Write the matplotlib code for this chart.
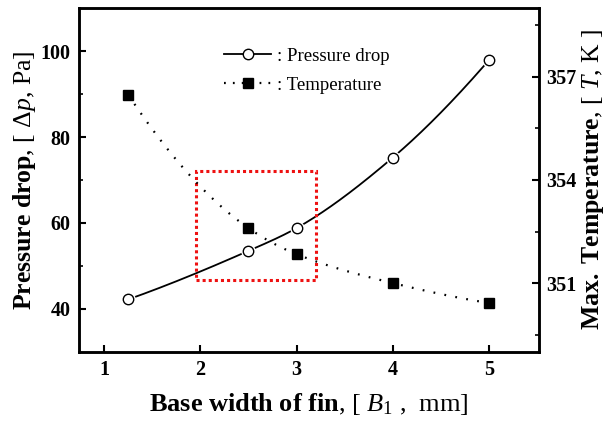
import numpy as np
import matplotlib
matplotlib.use("Agg")
import matplotlib.pyplot as plt
from matplotlib.ticker import FixedLocator
from matplotlib.lines import Line2D
from matplotlib.patches import Rectangle

plt.rcParams['font.family'] = ['Liberation Serif', 'DejaVu Serif']
plt.rcParams['mathtext.fontset'] = 'custom'
plt.rcParams['mathtext.rm'] = 'Liberation Serif'
plt.rcParams['mathtext.it'] = 'Liberation Serif:italic'
plt.rcParams['mathtext.bf'] = 'Liberation Serif:bold'

# data
base_width = [1.25, 2.5, 3.0, 4.0, 5.0]
pressure_drop = [42.2, 53.5, 58.8, 75.2, 97.9]
max_temperature = [356.48, 352.6, 351.84, 351.0, 350.42]
legend_labels = [": Pressure drop", ": Temperature"]
x_ticks = [1, 2, 3, 4, 5]
left_ticks = [40, 60, 80, 100]
left_minor = [50, 70, 90]
right_ticks = [351, 354, 357]
right_minor = [349.5, 352.5, 355.5, 358.5]


def pchip(x, y, xs):
    x = np.asarray(x, float); y = np.asarray(y, float)
    h = np.diff(x); d = np.diff(y) / h
    n = len(x); m = np.zeros(n)
    for k in range(1, n - 1):
        if d[k - 1] * d[k] > 0:
            w1 = 2 * h[k] + h[k - 1]; w2 = h[k] + 2 * h[k - 1]
            m[k] = (w1 + w2) / (w1 / d[k - 1] + w2 / d[k])
    m[0] = ((2 * h[0] + h[1]) * d[0] - h[0] * d[1]) / (h[0] + h[1])
    if np.sign(m[0]) != np.sign(d[0]): m[0] = 0
    m[-1] = ((2 * h[-1] + h[-2]) * d[-1] - h[-1] * d[-2]) / (h[-1] + h[-2])
    if np.sign(m[-1]) != np.sign(d[-1]): m[-1] = 0
    idx = np.clip(np.searchsorted(x, xs) - 1, 0, n - 2)
    t = (xs - x[idx]) / h[idx]
    h00 = 2 * t**3 - 3 * t**2 + 1; h10 = t**3 - 2 * t**2 + t
    h01 = -2 * t**3 + 3 * t**2; h11 = t**3 - t**2
    return h00 * y[idx] + h10 * h[idx] * m[idx] + h01 * y[idx + 1] + h11 * h[idx] * m[idx + 1]


fig = plt.figure(figsize=(6.09, 4.28), dpi=100)
ax = fig.add_axes([0.130, 0.178, 0.755, 0.803])
ax2 = ax.twinx()

xs = np.linspace(base_width[0], base_width[-1], 300)
ax.plot(xs, pchip(base_width, pressure_drop, xs), color='black', lw=1.3, zorder=2)
ax.plot(base_width, pressure_drop, linestyle='none', marker='o', ms=10.5,
        mfc='white', mec='white', mew=0, zorder=2.5)
ax.plot(base_width, pressure_drop, linestyle='none', marker='o', ms=7.5,
        mfc='white', mec='black', mew=1.0, zorder=3)
ax2.plot(xs, pchip(base_width, max_temperature, xs), color='black', lw=1.6,
         linestyle=(0, (0.8, 4.2)), zorder=2)
ax2.plot(base_width, max_temperature, linestyle='none', marker='s', ms=6.8,
         mfc='black', mec='black', zorder=3)

ax.set_xlim(0.74, 5.52)
ax.set_ylim(30, 110)
ax2.set_ylim(349, 359)

ax.xaxis.set_major_locator(FixedLocator(x_ticks))
ax.yaxis.set_major_locator(FixedLocator(left_ticks))
ax.yaxis.set_minor_locator(FixedLocator(left_minor))
ax2.yaxis.set_major_locator(FixedLocator(right_ticks))
ax2.yaxis.set_minor_locator(FixedLocator(right_minor))

for a in (ax, ax2):
    for s in a.spines.values():
        s.set_linewidth(1.8)
ax.tick_params(axis='both', which='major', direction='in', length=5, width=1.5,
               labelsize=14.5, pad=6)
ax.tick_params(axis='y', which='minor', direction='in', length=3, width=1.2)
ax2.tick_params(axis='y', which='major', direction='in', length=5, width=1.5,
                labelsize=14.5, pad=5)
ax2.tick_params(axis='y', which='minor', direction='in', length=3, width=1.2)
for lab in ax.get_xticklabels() + ax.get_yticklabels() + ax2.get_yticklabels():
    lab.set_fontweight('bold')

ax.set_xlabel(r"$\mathbf{Base\ width\ of\ fin}$, [ $\mathit{B_1}$ ,  mm]", fontsize=19, labelpad=8)
ax.set_ylabel(r"$\mathbf{Pressure\ drop}$, [ $\mathit{\Delta p}$, Pa]", fontsize=18.5, labelpad=2)
ax2.set_ylabel(r"$\mathbf{Max.\ Temperature}$, [ $\mathit{T}$, K ]", fontsize=18.5,
               rotation=90, labelpad=3)

rect = Rectangle((1.95, 46.8), 1.25, 25.2, fill=False, edgecolor='#ee1111',
                 lw=2.2, linestyle=(0, (1, 1)), zorder=4)
ax.add_patch(rect)

handles = [Line2D([], [], color='black', lw=1.3, marker='o', ms=7.5, mfc='white', mec='black'),
           Line2D([], [], color='black', lw=1.6, linestyle=(0, (0.8, 3.2)), marker='s', ms=6.8,
                  mfc='black', mec='black')]
leg = ax.legend(handles, legend_labels, loc='upper left', bbox_to_anchor=(0.295, 0.913),
                frameon=False, fontsize=13.5, handlelength=2.5, handletextpad=0.3,
                borderpad=0, labelspacing=0.65)

fig.savefig("out.png", dpi=100)
